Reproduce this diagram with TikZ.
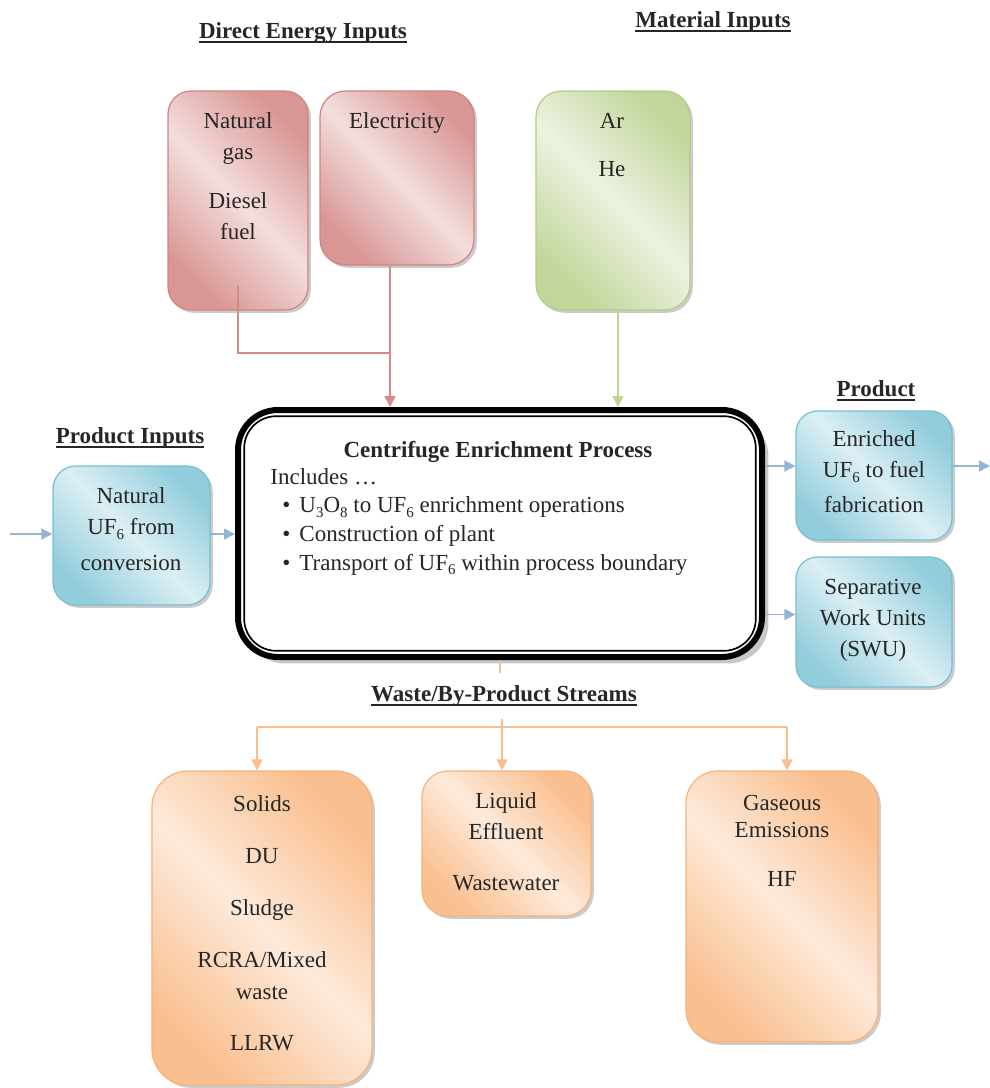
\documentclass[tikz,border=0pt]{standalone}
\usepackage{fontspec}
\setmainfont{Liberation Serif}
\usetikzlibrary{arrows.meta,shadows}

% fill colours (dark corner / light band / outline)
\definecolor{redD}{RGB}{217,150,148}
\definecolor{redL}{RGB}{243,222,221}
\definecolor{redE}{RGB}{206,132,130}
\definecolor{grnD}{RGB}{194,214,155}
\definecolor{grnL}{RGB}{236,242,224}
\definecolor{grnE}{RGB}{180,204,135}
\definecolor{bluD}{RGB}{146,205,220}
\definecolor{bluL}{RGB}{220,239,244}
\definecolor{bluE}{RGB}{120,190,208}
\definecolor{orgD}{RGB}{250,191,143}
\definecolor{orgL}{RGB}{253,234,219}
\definecolor{orgE}{RGB}{247,178,122}
% connector colours
\definecolor{redW}{RGB}{214,138,136}
\definecolor{grnW}{RGB}{190,212,150}
\definecolor{bluW}{RGB}{149,179,215}
\definecolor{orgW}{RGB}{250,190,140}

\newcommand{\ulword}[1]{\setbox0=\hbox{#1}\rlap{\rule[-2.4pt]{\wd0}{0.9pt}}\box0}
\newcommand{\blt}{\hspace*{6pt}\textbullet\hspace{4.5pt}}
\newcommand{\lowsub}[1]{\raisebox{-0.45ex}{\fontsize{7.5}{8}\selectfont #1}}

\tikzset{
  boxbase/.style={rectangle, inner sep=0pt, line width=0.6pt,
    drop shadow={shadow xshift=1.4pt, shadow yshift=-1.4pt, fill=black!45, opacity=0.45}},
  redbox/.style={boxbase, draw=redE, top color=redD, bottom color=redD, middle color=redL, shading angle=-45},
  grnbox/.style={boxbase, draw=grnE, top color=grnD, bottom color=grnD, middle color=grnL, shading angle=-45},
  blubox/.style={boxbase, draw=bluE, top color=bluD, bottom color=bluD, middle color=bluL, shading angle=-45},
  orgbox/.style={boxbase, draw=orgE, top color=orgD, bottom color=orgD, middle color=orgL, shading angle=-45},
  ctrbox/.style={rectangle, inner sep=0pt, draw=black, line width=3pt, fill=white,
    rounded corners=20pt, minimum width=262pt, minimum height=123.5pt,
    drop shadow={shadow xshift=3.2pt, shadow yshift=-3.2pt, fill=black!40, opacity=0.55}},
  lbl/.style={anchor=north, align=center, inner sep=0pt, text=black!85, font=\fontsize{11.5}{15.5}\selectfont},
  hd/.style={anchor=base, inner sep=0pt, text=black!85, font=\bfseries\fontsize{11.5}{14}\selectfont},
  wire/.style={line width=0.8pt},
  tip/.style={-{Triangle[length=5.5pt,width=5.5pt]}},
}

\begin{document}
\begin{tikzpicture}[x=0.5pt,y=-0.5pt]
\useasboundingbox (0,0) rectangle (990,1088);

% section headings
\node[hd] (hdE) at (303,38) {\ulword{Direct Energy Inputs}};
\node[hd] (hdM) at (713,27) {\ulword{Material Inputs}};
\node[hd] (hdP) at (876,396) {\ulword{Product}};
\node[hd] (hdI) at (130,443) {\ulword{Product Inputs}};
\node[hd] (hdW) at (504,701) {\ulword{Waste/By-Product Streams}};

% direct energy inputs
\node[redbox, rounded corners=11.5pt, minimum width=70pt, minimum height=109.5pt] (ng) at (238,200.5) {};
\node[lbl] (ngt) at (238,112.5) {Natural\\gas\\[9pt]Diesel\\fuel};
\node[redbox, rounded corners=12.8pt, minimum width=77pt, minimum height=87pt] (el) at (397,178) {};
\node[lbl] (elt) at (397,112.5) {Electricity};

% material inputs
\node[grnbox, rounded corners=12.8pt, minimum width=77pt, minimum height=109.5pt] (ar) at (613,200.5) {};
\node[lbl] (art) at (612,113) {Ar\\[8.5pt]He};

% process boundary
\node[ctrbox] (ctr) at (500,533.5) {};
\draw[line width=0.85pt, rounded corners=16pt]
  ([shift={(4.6pt,-4.6pt)}]ctr.north west) rectangle ([shift={(-4.6pt,4.6pt)}]ctr.south east);
\node[hd] (ttl) at (498,457) {Centrifuge Enrichment Process};
\node[anchor=north west, align=left, inner sep=0pt, text=black!85, font=\fontsize{11.5}{14.3}\selectfont] (inc) at (270,468)
  {Includes …\\
   \blt U\lowsub{3}O\lowsub{8} to UF\lowsub{6} enrichment operations\\
   \blt Construction of plant\\
   \blt Transport of UF\lowsub{6} within process boundary};

% product input and products
\node[blubox, rounded corners=11.5pt, minimum width=78.5pt, minimum height=69.5pt] (nat) at (131.5,535.5) {};
\node[lbl] (natt) at (131,487) {Natural\\UF\lowsub{6} from\\[2.5pt]conversion};
\node[blubox, rounded corners=10.8pt, minimum width=78pt, minimum height=64.5pt] (enr) at (874,475.5) {};
\node[lbl] (enrt) at (874,430) {Enriched\\UF\lowsub{6} to fuel\\[2pt]fabrication};
\node[blubox, rounded corners=10.8pt, minimum width=78pt, minimum height=65pt] (swu) at (874,622) {};
\node[lbl] (swut) at (873,578.5) {Separative\\Work Units\\(SWU)};

% waste and by-product streams
\node[orgbox, rounded corners=18pt, minimum width=110pt, minimum height=157pt] (sol) at (262,928) {};
\node[lbl, font=\fontsize{11.5}{16}\selectfont] (solt) at (262,795.5) {Solids\\[10pt]DU\\[10pt]Sludge\\[10pt]RCRA/Mixed\\waste\\[9.5pt]LLRW};
\node[orgbox, rounded corners=13pt, minimum width=84.5pt, minimum height=72.5pt] (liq) at (506.5,843.5) {};
\node[lbl] (liqt) at (506,792.5) {Liquid\\Effluent\\[10pt]Wastewater};
\node[orgbox, rounded corners=16pt, minimum width=96pt, minimum height=135.5pt] (gas) at (782,906.5) {};
\node[lbl] (gast) at (782,795) {Gaseous\\[-2pt]Emissions\\[9pt]HF};

% energy and material connectors
\coordinate (redjoin) at (390,353);
\draw[wire, redW] ([yshift=12.5pt]ng.south) |- (redjoin);
\draw[wire, redW, tip] ([xshift=-3.5pt]el.south) -- ([xshift=-3.5pt]el.south |- ctr.north);
\draw[wire, grnW, tip] ([xshift=2.5pt]ar.south) -- ([xshift=2.5pt]ar.south |- ctr.north);

% product flow connectors
\coordinate (feed) at (10,534);
\coordinate (fuelout) at (990,466);
\draw[wire, bluW, tip] (feed) -- (feed -| nat.west);
\draw[wire, bluW, tip] (nat.east |- feed) -- (feed -| ctr.west);
\draw[wire, bluW, tip] ([yshift=4.75pt]enr.west -| ctr.east) -- ([yshift=4.75pt]enr.west);
\draw[wire, bluW, tip] ([yshift=4.75pt]enr.east) -- (fuelout);
\draw[wire, bluW, tip] ([yshift=3.75pt]swu.west -| ctr.east) -- ([yshift=3.75pt]swu.west);

% waste connectors
\coordinate (stub) at (500,673);
\coordinate (split) at (502,719);
\coordinate (busL) at (257,727);
\coordinate (busR) at (787,727);
\draw[wire, orgW] (ctr.south) -- (stub);
\draw[wire, orgW, tip] (split) -- (split |- liq.north);
\draw[wire, orgW] (busL) -- (busR);
\draw[wire, orgW, tip] (busL) -- (busL |- sol.north);
\draw[wire, orgW, tip] (busR) -- (busR |- gas.north);
\end{tikzpicture}
\end{document}
